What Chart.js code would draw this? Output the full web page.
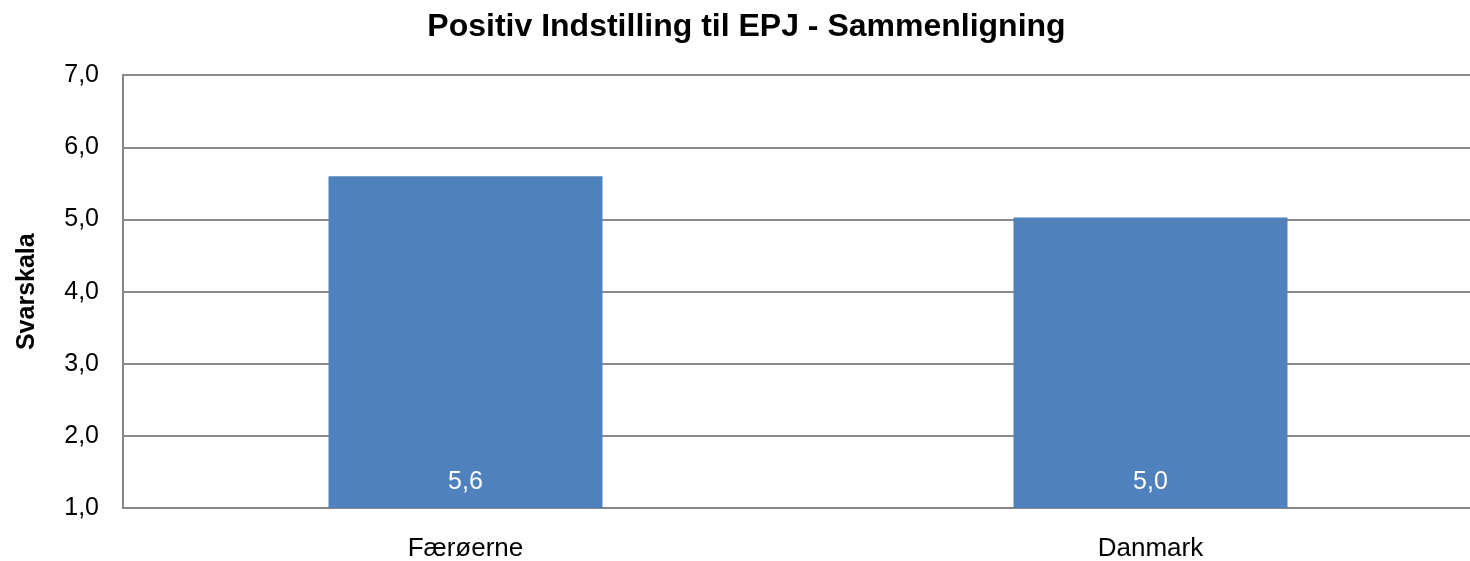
<!DOCTYPE html>
<html>
<head>
<meta charset="utf-8">
<script src="https://cdn.jsdelivr.net/npm/chart.js@4/dist/chart.umd.min.js"></script>
<style>
  html, body { margin: 0; padding: 0; background: #fff; overflow: hidden; }
  #wrap { width: 1500px; height: 561px; }
</style>
</head>
<body>
<div id="wrap"><canvas id="chart"></canvas></div>
<script>
const categories = ['Færøerne', 'Danmark'];
const values = [5.6, 5.03];
const yTicks = [1, 2, 3, 4, 5, 6, 7];

const komma = v => v.toFixed(1).replace('.', ',');
const FONT = '"Liberation Sans", Arial, sans-serif';

// tal inde i bunden af søjlerne
const barLabels = {
  id: 'barLabels',
  afterDatasetsDraw(chart) {
    const ctx = chart.ctx;
    const meta = chart.getDatasetMeta(0);
    ctx.save();
    ctx.fillStyle = '#fff';
    ctx.font = '25px ' + FONT;
    ctx.textAlign = 'center';
    ctx.textBaseline = 'middle';
    meta.data.forEach((bar, i) => {
      ctx.fillText(komma(values[i]), bar.x, chart.chartArea.bottom - 26);
    });
    ctx.restore();
  }
};

new Chart(document.getElementById('chart'), {
  type: 'bar',
  data: {
    labels: categories,
    datasets: [{
      data: values,
      backgroundColor: '#4f81bd',
      borderWidth: 0,
      barPercentage: 0.4,
      categoryPercentage: 1
    }]
  },
  plugins: [barLabels],
  options: {
    responsive: true,
    maintainAspectRatio: false,
    animation: false,
    layout: { padding: { left: 0, right: 7, top: 0, bottom: 0 } },
    plugins: {
      legend: { display: false },
      tooltip: { enabled: false },
      title: {
        display: true,
        text: 'Positiv Indstilling til EPJ - Sammenligning',
        color: '#000',
        font: { family: FONT, size: 32, weight: 'bold' },
        padding: { top: 8, bottom: 29 }
      }
    },
    scales: {
      x: {
        grid: { display: false, drawTicks: false },
        border: { color: '#868686', width: 2 },
        ticks: {
          color: '#000',
          padding: 25,
          font: { family: FONT, size: 26 }
        },
        afterFit(scale) { scale.height = 53; }
      },
      y: {
        min: 1,
        max: 7,
        afterBuildTicks(scale) { scale.ticks = yTicks.map(v => ({ value: v })); },
        grid: { color: '#8c8c8c', lineWidth: 2, drawTicks: false },
        border: { color: '#868686', width: 2 },
        ticks: {
          color: '#000',
          padding: 24,
          font: { family: FONT, size: 25 },
          callback: v => komma(v)
        },
        title: {
          display: true,
          text: 'Svarskala',
          color: '#000',
          font: { family: FONT, size: 25, weight: 'bold' },
          padding: { top: 12, bottom: 0 }
        },
        afterFit(scale) { scale.width = 123; }
      }
    }
  }
});
</script>
</body>
</html>
